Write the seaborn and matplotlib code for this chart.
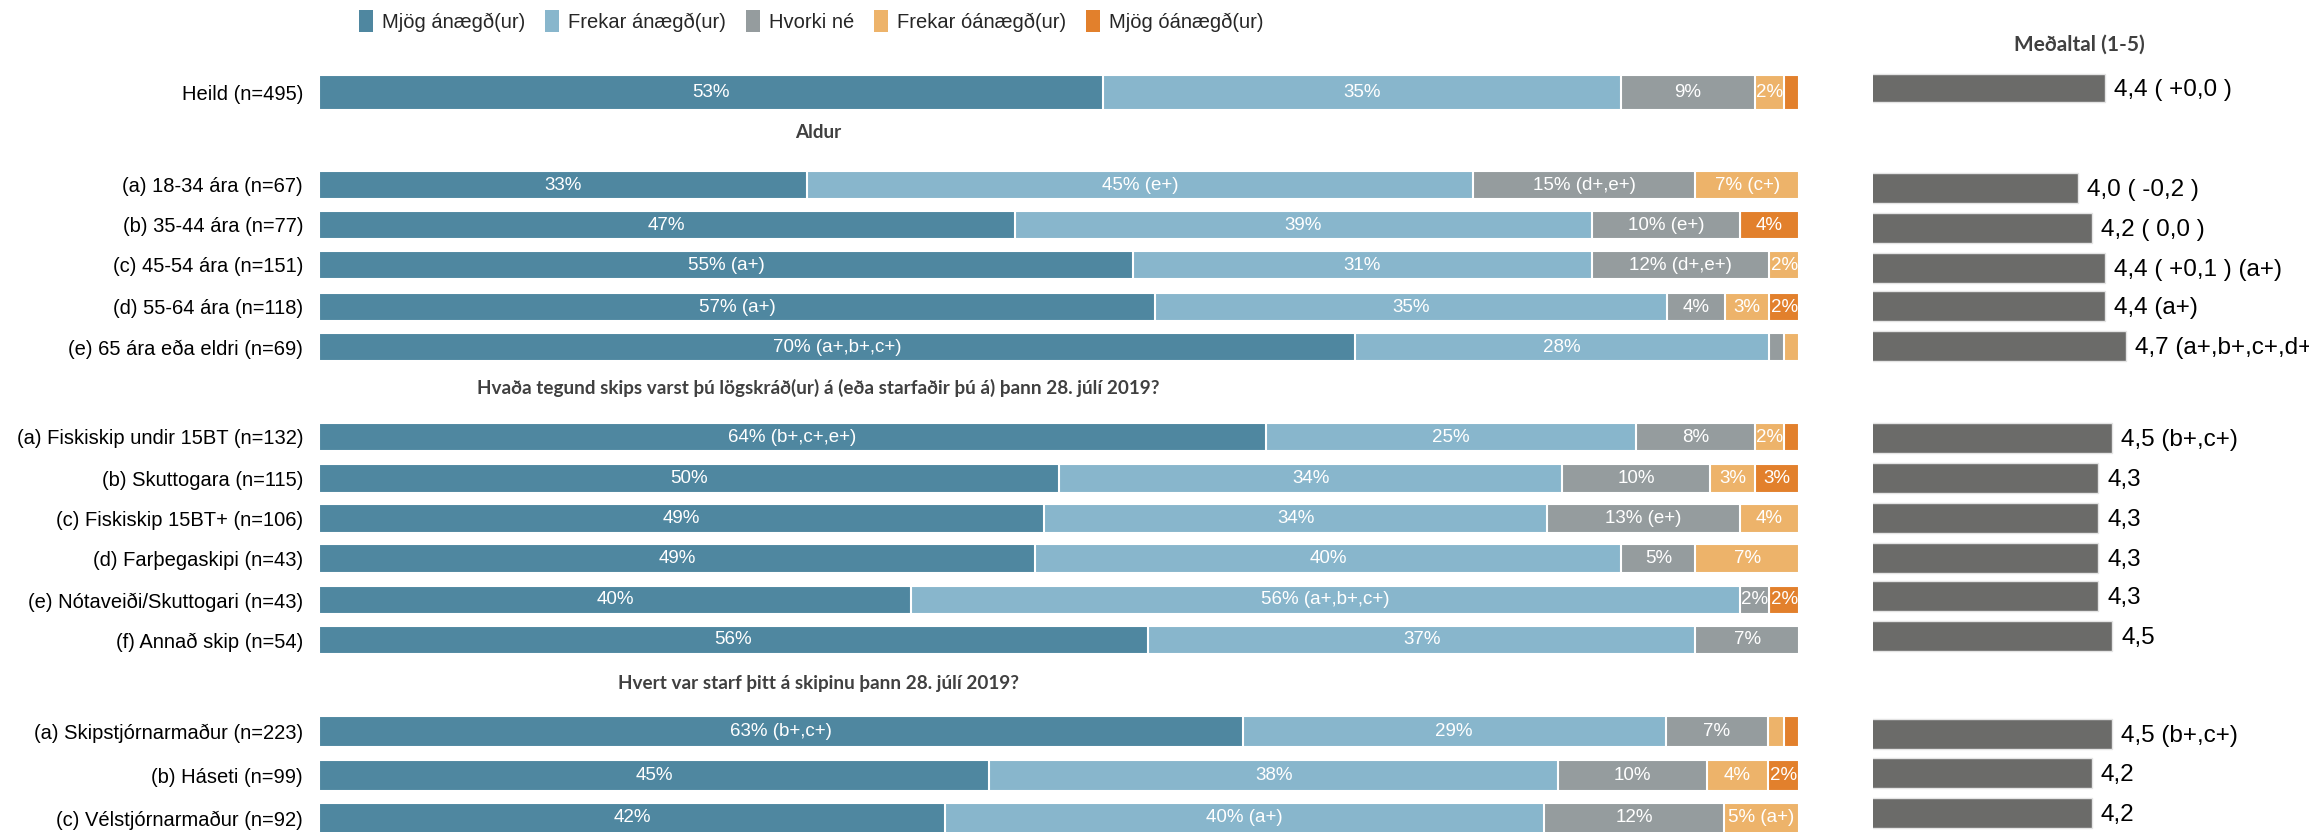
import numpy as np
import pandas as pd
import matplotlib
matplotlib.use("Agg")
import matplotlib.pyplot as plt
from matplotlib.patches import Patch
from matplotlib import font_manager
import seaborn as sns

# ---------------- data ----------------
categories = [
    "Heild (n=495)",
    "(a) 18-34 ára (n=67)", "(b) 35-44 ára (n=77)", "(c) 45-54 ára (n=151)",
    "(d) 55-64 ára (n=118)", "(e) 65 ára eða eldri (n=69)",
    "(a) Fiskiskip undir 15BT (n=132)", "(b) Skuttogara (n=115)", "(c) Fiskiskip 15BT+ (n=106)",
    "(d) Farþegaskipi (n=43)", "(e) Nótaveiði/Skuttogari (n=43)", "(f) Annað skip (n=54)",
    "(a) Skipstjórnarmaður (n=223)", "(b) Háseti (n=99)", "(c) Vélstjórnarmaður (n=92)",
]
group_of_row = [0, 1, 1, 1, 1, 1, 2, 2, 2, 2, 2, 2, 3, 3, 3]
section_titles = [
    "Aldur",
    "Hvaða tegund skips varst þú lögskráð(ur) á (eða starfaðir þú á) þann 28. júlí 2019?",
    "Hvert var starf þitt á skipinu þann 28. júlí 2019?",
]
series_names = ["Mjög ánægð(ur)", "Frekar ánægð(ur)", "Hvorki né", "Frekar óánægð(ur)", "Mjög óánægð(ur)"]

mjog_anaegd    = [53, 33, 47, 55, 56.5, 70, 64, 50, 49, 48.4, 40, 56, 62.4, 45.3, 42.3]
frekar_anaegd  = [35, 45, 39, 31, 34.6, 28, 25, 34, 34, 39.6, 56, 37, 28.6, 38.4, 40.5]
hvorki         = [9, 15, 10, 12, 3.9, 1.0, 8, 10, 13, 5.0, 2, 7, 6.9, 10.1, 12.1]
frekar_oanaegd = [2, 7, 0, 2, 3.0, 1.0, 2, 3, 4, 7.0, 0, 0, 1.1, 4.1, 5.1]
mjog_oanaegd   = [1, 0, 4, 0, 2.0, 0, 1, 3, 0, 0, 2, 0, 1.0, 2.1, 0]

lbl_mjog_anaegd = ["53%", "33%", "47%", "55% (a+)", "57% (a+)", "70% (a+,b+,c+)",
                   "64% (b+,c+,e+)", "50%", "49%", "49%", "40%", "56%",
                   "63% (b+,c+)", "45%", "42%"]
lbl_frekar_anaegd = ["35%", "45% (e+)", "39%", "31%", "35%", "28%",
                     "25%", "34%", "34%", "40%", "56% (a+,b+,c+)", "37%",
                     "29%", "38%", "40% (a+)"]
lbl_hvorki = ["9%", "15% (d+,e+)", "10% (e+)", "12% (d+,e+)", "4%", "",
              "8%", "10%", "13% (e+)", "5%", "2%", "7%",
              "7%", "10%", "12%"]
lbl_frekar_oanaegd = ["2%", "7% (c+)", "", "2%", "3%", "",
                      "2%", "3%", "4%", "7%", "", "",
                      "", "4%", "5% (a+)"]
lbl_mjog_oanaegd = ["", "", "4%", "", "2%", "",
                    "", "3%", "", "", "2%", "",
                    "", "2%", ""]

mean_values = [4.4, 4.0, 4.2, 4.4, 4.4, 4.7, 4.5, 4.3, 4.3, 4.3, 4.3, 4.5, 4.5, 4.2, 4.2]
mean_labels = ["4,4 ( +0,0 )", "4,0 ( -0,2 )", "4,2 ( 0,0 )", "4,4 ( +0,1 ) (a+)", "4,4 (a+)",
               "4,7 (a+,b+,c+,d+)", "4,5 (b+,c+)", "4,3", "4,3", "4,3", "4,3", "4,5",
               "4,5 (b+,c+)", "4,2", "4,2"]
mean_title = "Meðaltal (1-5)"

# ---------------- layout / style ----------------
W, H = 2309, 832
row_y = [92.5, 185, 225, 265, 307, 347, 437, 478.5, 518.5, 558.5, 600, 640, 731.5, 775.5, 818]
row_h = {0: 35, 1: 28.5, 2: 28.5, 3: 31}
mean_y = [88, 187.7, 227.7, 267.7, 305.7, 346, 437.7, 477.7, 517.7, 557.7, 596, 636, 733.7, 773.3, 813.3]
mean_h = {0: 28, 1: 30, 2: 30, 3: 30}
title_y = [133, 388, 683]
title_x = 818
colors = ["#4F87A0", "#88B6CC", "#959C9E", "#EDB36A", "#E2802C"]
mean_color = "#6B6B69"

sns.set_theme(style="white")
names = {f.name for f in font_manager.fontManager.ttflist}
base_font = "Liberation Sans" if "Liberation Sans" in names else "DejaVu Sans"
head_font = "Lato" if "Lato" in names else base_font
plt.rcParams["font.family"] = [base_font, "DejaVu Sans"]

fig = plt.figure(figsize=(W / 100, H / 100), dpi=100)
ax = fig.add_axes([319 / W, 0, 1480 / W, 1])
axm = fig.add_axes([1873 / W, 0, 4 * 68.3 / W, 1])


def draw_group(axis, ys, xs, h, color, **kw):
    ys = np.asarray(ys, float)
    uniq = np.unique(ys)
    nat = np.min(np.diff(uniq)) if len(uniq) > 1 else 1.0
    df = pd.DataFrame({"pos": ys, "val": np.asarray(xs, float)})
    sns.barplot(data=df, x="val", y="pos", orient="h", native_scale=True,
                color=color, saturation=1, width=h / nat, errorbar=None,
                ax=axis, **kw)


vals = np.column_stack([mjog_anaegd, frekar_anaegd, hvorki, frekar_oanaegd, mjog_oanaegd])
lbls = [lbl_mjog_anaegd, lbl_frekar_anaegd, lbl_hvorki, lbl_frekar_oanaegd, lbl_mjog_oanaegd]
cum = np.cumsum(vals, axis=1)
ry = np.asarray(row_y)
my = np.asarray(mean_y)
mv = np.asarray(mean_values)

for g in range(4):
    idx = [i for i, gg in enumerate(group_of_row) if gg == g]
    for k in reversed(range(5)):
        draw_group(ax, ry[idx], cum[idx, k], row_h[g], colors[k],
                   edgecolor="white", linewidth=1.5)
    draw_group(axm, my[idx], mv[idx], mean_h[g], mean_color,
               edgecolor="#e4e4e4", linewidth=1.0)

for i in range(len(categories)):
    for k in range(5):
        if lbls[k][i]:
            ax.text(cum[i, k] - vals[i, k] / 2, ry[i], lbls[k][i], ha="center",
                    va="center", color="white", fontsize=13.5)

ax.set_xlim(0, 100)
ax.set_ylim(H, 0)
ax.set_xlabel("")
ax.set_ylabel("")
ax.set_xticks([])
ax.set_yticks(row_y, labels=categories, fontsize=14.5, color="black")
ax.tick_params(axis="y", length=0, pad=11.5)
for s in ax.spines.values():
    s.set_visible(False)

axm.set_xlim(1, 5)
axm.set_ylim(H, 0)
axm.axis("off")
for i in range(len(mean_labels)):
    axm.annotate(mean_labels[i], (mv[i], my[i] + 2), xytext=(6.5, 0),
                 textcoords="offset points", ha="left", va="center",
                 fontsize=17.5, color="black", annotation_clip=False)

for t, yy in zip(section_titles, title_y):
    fig.text(title_x / W, 1 - yy / H, t, ha="center", va="center",
             fontsize=13.6, fontweight="bold", color="#404040", family=[head_font, "DejaVu Sans"])
fig.text(2079 / W, 1 - 45 / H, mean_title, ha="center", va="center",
         fontsize=15, fontweight="bold", color="#404040", family=[head_font, "DejaVu Sans"])

handles = [Patch(facecolor=c, edgecolor="none") for c in colors]
fig.legend(handles, series_names, loc="center left", bbox_to_anchor=(359 / W, 1 - 21 / H),
           ncol=5, frameon=False, fontsize=14.5, handlelength=0.68, handleheight=1.3,
           handletextpad=0.45, columnspacing=1.0, borderpad=0, borderaxespad=0)

fig.savefig("out.png", dpi=100)
